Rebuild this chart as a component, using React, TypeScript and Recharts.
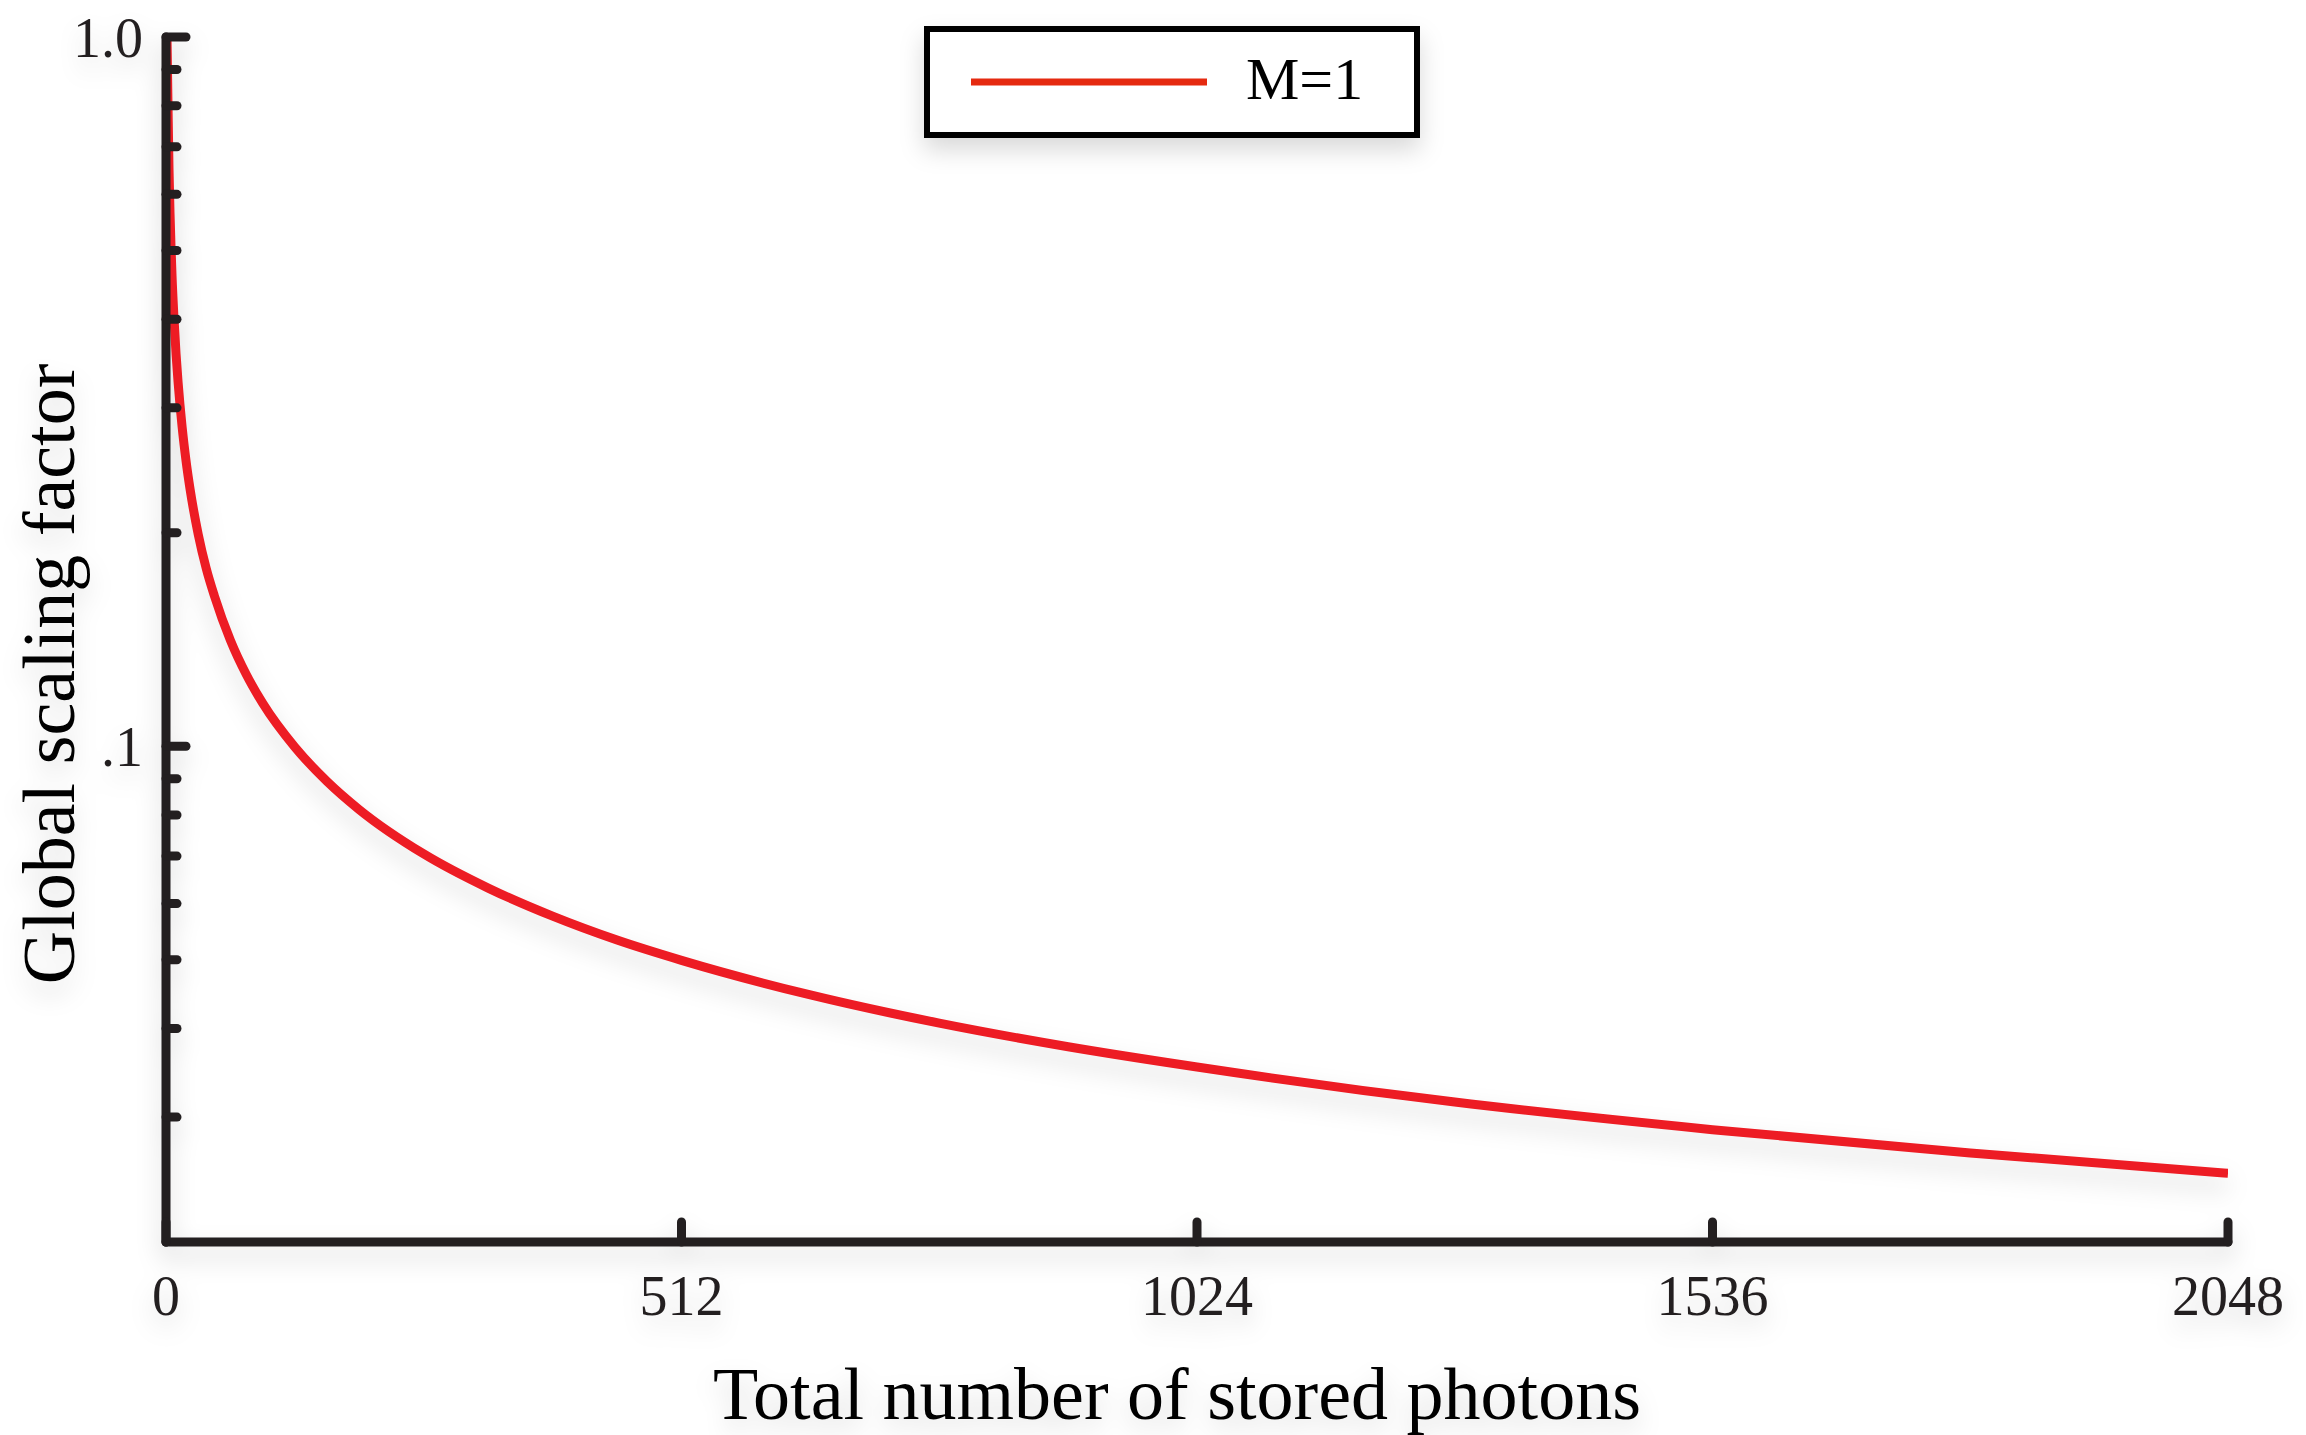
import React from 'react';
import { LineChart, Line, XAxis, YAxis, Legend, Label } from 'recharts';

// Stored photon counts and the matching global scaling factor (M = 1)
const photonCounts = [
  1, 2, 3, 4, 5, 6, 8, 10, 12, 16, 20, 24, 32, 40, 48, 64, 80, 96, 128, 160, 192,
  256, 320, 384, 448, 512, 640, 768, 896, 1024, 1280, 1536, 1792, 2048,
];
const scalingM1 = [
  1.0, 0.8, 0.65, 0.564, 0.505, 0.46, 0.4, 0.357, 0.326, 0.282, 0.252, 0.23, 0.199,
  0.178, 0.163, 0.141, 0.126, 0.115, 0.0997, 0.0892, 0.0814, 0.0705, 0.0631, 0.0576,
  0.0533, 0.0499, 0.0446, 0.0407, 0.0377, 0.0353, 0.0315, 0.0288, 0.0267, 0.025,
];

const xTicks = [0, 512, 1024, 1536, 2048];
const yTicks = [
  0.03, 0.04, 0.05, 0.06, 0.07, 0.08, 0.09, 0.1,
  0.2, 0.3, 0.4, 0.5, 0.6, 0.7, 0.8, 0.9, 1.0,
];
const yLabels: Record<string, string> = { '0.1': '.1', '1': '1.0' };

const data = photonCounts.map((n, i) => ({ n, m1: scalingM1[i] }));

const INK = '#231f20';
const RED = '#ed1c24';
const SERIF = '"Liberation Serif", "Times New Roman", Times, serif';

const XTick = ({ x, y, payload }: any) => (
  <g>
    <line x1={x} y1={y} x2={x} y2={y - 20} stroke={INK} strokeWidth={9} strokeLinecap="round" />
    <text x={x} y={y + 73} textAnchor="middle" fontSize={56} fill={INK} fontFamily={SERIF}>
      {payload.value}
    </text>
  </g>
);

const YTick = ({ x, y, payload }: any) => {
  const label = yLabels[String(payload.value)];
  const len = label ? 20 : 11;
  return (
    <g>
      <line x1={x} y1={y} x2={x + len} y2={y} stroke={INK} strokeWidth={9} strokeLinecap="round" />
      {label && (
        <text x={x - 23} y={y + 20} textAnchor="end" fontSize={56} fill={INK} fontFamily={SERIF}>
          {label}
        </text>
      )}
    </g>
  );
};

const renderLegend = (props: any) => {
  const item = props.payload?.[0];
  return (
    <svg width={496} height={112} style={{ display: 'block' }}>
      <rect x={3} y={3} width={490} height={106} fill="#fff" stroke="#000" strokeWidth={6} />
      <line x1={47} y1={56} x2={283} y2={56} stroke="#e52a10" strokeWidth={7} />
      <text x={322} y={73} fontSize={60} fill="#000" fontFamily={SERIF}>
        {item ? item.value : ''}
      </text>
    </svg>
  );
};

export default function App() {
  return (
    <div
      style={{
        position: 'absolute',
        left: 0,
        top: 0,
        width: 2306,
        height: 1435,
        background: '#fff',
      }}
    >
      <div style={{ filter: 'drop-shadow(0px 12px 12px rgba(0,0,0,0.15))' }}>
        <LineChart
          width={2306}
          height={1435}
          data={data}
          margin={{ top: 37, right: 78, bottom: 163, left: 106 }}
        >
          <XAxis
            dataKey="n"
            type="number"
            domain={[0, 2048]}
            ticks={xTicks}
            height={30}
            tickSize={0}
            tickMargin={0}
            tickLine={false}
            tick={<XTick />}
            axisLine={{ stroke: INK, strokeWidth: 9, strokeLinecap: 'round' }}
            allowDataOverflow
          >
            <Label
              content={() => (
                <text x={1177} y={1419} textAnchor="middle" fontSize={74} fill="#000" fontFamily={SERIF}>
                  Total number of stored photons
                </text>
              )}
            />
          </XAxis>
          <YAxis
            scale="log"
            type="number"
            domain={[0.02, 1]}
            ticks={yTicks}
            width={60}
            tickSize={0}
            tickMargin={0}
            tickLine={false}
            tick={<YTick />}
            interval={0}
            axisLine={{ stroke: INK, strokeWidth: 9, strokeLinecap: 'round' }}
            allowDataOverflow
          >
            <Label
              content={() => (
                <text
                  x={74}
                  y={674}
                  transform="rotate(-90, 74, 674)"
                  textAnchor="middle"
                  fontSize={74}
                  fill="#000"
                  fontFamily={SERIF}
                >
                  Global scaling factor
                </text>
              )}
            />
          </YAxis>
          <Legend
            layout="vertical"
            align="center"
            verticalAlign="middle"
            content={renderLegend}
            wrapperStyle={{ left: 924, top: 26, width: 496, height: 112 }}
          />
          <Line
            type="monotone"
            dataKey="m1"
            name="M=1"
            stroke={RED}
            strokeWidth={9}
            dot={false}
            activeDot={false}
            isAnimationActive={false}
          />
        </LineChart>
      </div>
    </div>
  );
}
